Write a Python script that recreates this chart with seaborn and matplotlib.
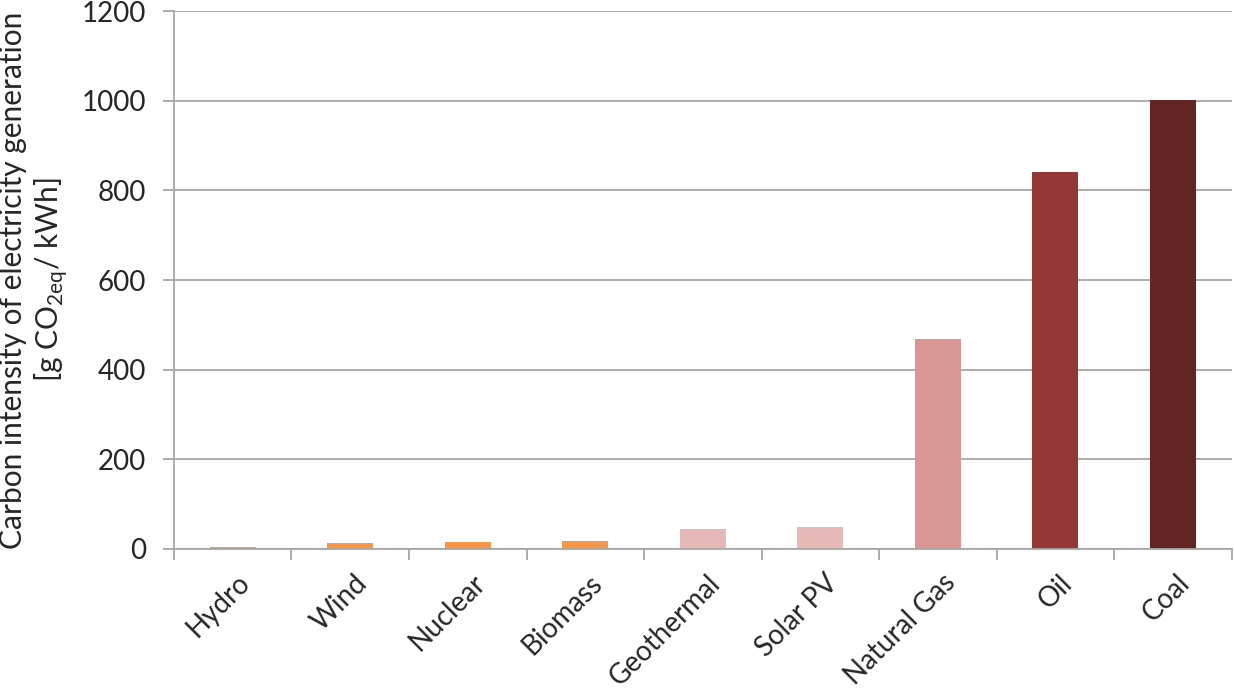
import numpy as np
import pandas as pd
import matplotlib
matplotlib.use("Agg")
import matplotlib.pyplot as plt
import matplotlib.transforms as mtransforms
from matplotlib.ticker import FixedLocator
import seaborn as sns

# ---- Data ---------------------------------------------------
sources = ["Hydro", "Wind", "Nuclear", "Biomass", "Geothermal",
           "Solar PV", "Natural Gas", "Oil", "Coal"]
intensity = [4, 12, 16, 18, 45, 48, 469, 840, 1001]
bar_colors = ["#F79646", "#F79646", "#F79646", "#F79646", "#E6B9B8",
              "#E6B9B8", "#D99694", "#953735", "#632523"]
y_ticks = [0, 200, 400, 600, 800, 1000, 1200]

df = pd.DataFrame({"source": sources, "intensity": intensity})

sns.set_style("white")
plt.rcParams["font.family"] = ["Lato", "DejaVu Sans"]
plt.rcParams["mathtext.fontset"] = "custom"
plt.rcParams["mathtext.rm"] = "Lato"

fig = plt.figure(figsize=(12.34, 7), dpi=100)
ax = fig.add_axes([0.141, 0.216, 0.857, 0.768])

sns.barplot(data=df, x="source", y="intensity", hue="source",
            palette=bar_colors, legend=False, width=0.39,
            linewidth=0, saturation=1, ax=ax)

grid_col = "#A6A6A6"
ax.set_ylim(0, 1200)
ax.set_xlim(-0.5, len(sources) - 0.5)
ax.set_yticks(y_ticks)
ax.yaxis.grid(True, color=grid_col, linewidth=1.3)
ax.set_axisbelow(True)

for side in ["top", "right"]:
    ax.spines[side].set_visible(False)
for side in ["left", "bottom"]:
    ax.spines[side].set_color(grid_col)
    ax.spines[side].set_linewidth(1.3)

# tick marks between categories, labels centred under bars
ax.xaxis.set_minor_locator(FixedLocator(np.arange(-0.5, len(sources), 1.0)))
ax.tick_params(axis="x", which="major", length=0, pad=15)
ax.tick_params(axis="x", which="minor", length=8, width=1.3, color=grid_col,
               direction="out", bottom=True)
ax.tick_params(axis="y", length=8, width=1.3, color=grid_col,
               direction="out", left=True, labelsize=20, pad=12)

ax.set_xticks(range(len(sources)))
ax.set_xticklabels(sources, rotation=45, ha="right", rotation_mode="anchor",
                   fontsize=20)
ax.set_xlabel("")
ax.set_ylabel("Carbon intensity of electricity generation\n"
              r"[g CO$_{\mathregular{2eq}}$/ kWh]", fontsize=21.5,
              linespacing=1.2, va="center")
ax.yaxis.set_label_coords(-0.132, 0.5)

# nudge x labels slightly right so they end just past the bar centre
offset = mtransforms.ScaledTranslation(0.04, 0, fig.dpi_scale_trans)
for lbl in ax.get_xticklabels():
    lbl.set_transform(lbl.get_transform() + offset)

plt.savefig("out.png", dpi=100)
plt.close()
